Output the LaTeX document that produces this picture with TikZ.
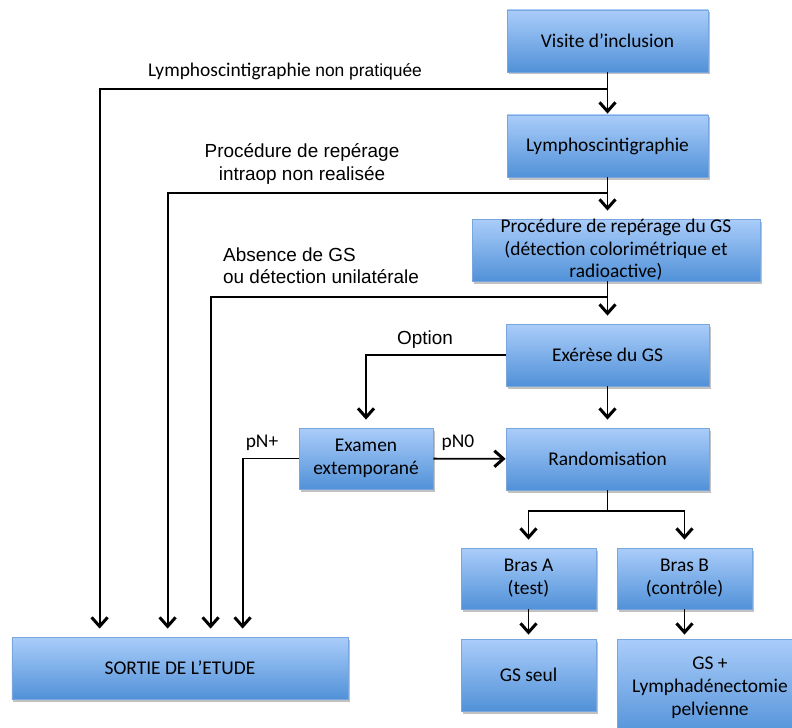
\documentclass[tikz,border=0pt]{standalone}
\usepackage{fontspec}
\setmainfont{Carlito}
\newfontfamily\arialf{Liberation Sans}
\usetikzlibrary{arrows.meta,shadows,calc}
\definecolor{boxtop}{HTML}{AACDFA}
\definecolor{boxbot}{HTML}{5191D8}
\definecolor{boxline}{HTML}{7AA6DE}
\begin{document}
\begin{tikzpicture}[x=1bp,y=-1bp,
  box/.style={draw=boxline, line width=0.8bp, top color=boxtop, bottom color=boxbot,
    drop shadow={shadow xshift=1.5bp, shadow yshift=-2.5bp, opacity=0.35, fill=black!70},
    inner sep=0pt, align=center, font=\fontsize{19.5}{23}\selectfont, text=black},
  boxtext/.style={inner sep=0pt, align=center, font=\fontsize{19.5}{22.5}\selectfont, text=black},
  lab/.style={inner sep=0pt, align=center, font=\arialf\fontsize{19}{22.5}\selectfont},
  clab/.style={inner sep=0pt, font=\fontsize{19.5}{23}\selectfont},
  conn/.style={line width=1.8bp, draw=black},
  arr/.style={conn, -{Straight Barb[length=9bp,width=16bp,line width=3bp]}, shorten >=8bp},
  arrn/.style={conn, -{Straight Barb[length=9bp,width=16bp,line width=3bp]}}]
\useasboundingbox (0,0) rectangle (792,728);

% boxes
\node[box, minimum width=201bp, minimum height=62bp] (visite) at (607.5,41) {Visite d’inclusion};
\node[box, minimum width=201bp, minimum height=62bp] (lympho) at (607.5,146) {Lymphoscintigraphie};
\node[box, minimum width=288bp, minimum height=62bp,
  label={[boxtext]center:{Procédure de repérage du GS\\(détection colorimétrique et\\radioactive)}}] (proc) at (616,250) {};
\node[box, minimum width=203bp, minimum height=62bp] (exer) at (607.5,355) {Exérèse du GS};
\node[box, minimum width=203bp, minimum height=62bp] (rand) at (607.5,459) {Randomisation};
\node[box, minimum width=134bp, minimum height=61bp] (exam) at (366,458.5) {Examen\\extemporané};
\node[box, minimum width=135bp, minimum height=61bp] (brasA) at (528.5,578.5) {Bras A\\(test)};
\node[box, minimum width=135bp, minimum height=61bp] (brasB) at (684.5,578.5) {Bras B\\(contrôle)};
\node[box, minimum width=135bp, minimum height=72bp] (gsseul) at (528.5,675) {GS seul};
\node[box, minimum width=186bp, minimum height=98bp] (gsplus) at (710,688) {GS +\\Lymphadénectomie\\pelvienne};
\node[box, minimum width=336bp, minimum height=62bp] (sortie) at (180,668) {SORTIE DE L’ETUDE};

% branch points
\coordinate (b1) at (visite.south |- 0,89);
\coordinate (b2) at (lympho.south |- 0,193);
\coordinate (b3) at (exer.north |- 0,297);
\coordinate (rb) at (rand.south |- 0,511);

% main flow
\draw[arrn, shorten >=1bp] (visite) -- (lympho);
\draw[arr] (lympho.south) -- (lympho.south |- proc.north);
\draw[arr] (proc.south -| exer.north) -- (exer.north);
\draw[arr] (exer) -- (rand);
\draw[arrn] (exam) -- (rand);
\draw[arr] (exer.west) -| (exam.north);

% exits
\draw[arr] (b1) -| ([xshift=88bp]sortie.north west);
\draw[arr] (b2) -| ([xshift=156bp]sortie.north west);
\draw[arr] (b3) -| ([xshift=199bp]sortie.north west);
\draw[arr] (exam.west) -| ([xshift=231bp]sortie.north west);

% randomisation
\draw[conn] (rand.south) -- (rb);
\draw[arr] (rb) -| (brasA.north);
\draw[arr] (rb) -| (brasB.north);
\draw[arr, shorten >=4bp] (brasA) -- (gsseul);
\draw[arr, shorten >=4bp] (brasB.south) -- (brasB.south |- gsplus.north);

% labels
\node[clab] (l1) at (285,72) {Lymphoscintigraphie {\arialf\fontsize{17.5}{20}\selectfont non pratiquée}};
\node[lab] (l2) at (302,164) {Procédure de repérage\\intraop non realisée};
\node[lab, align=left, anchor=west] (l3) at (223,266) {Absence de GS\\ou détection unilatérale};
\node[lab] (l4) at (425,340) {Option};
\node[clab] (l5) at (262,443) {pN+};
\node[clab] (l6) at (458,443) {pN0};
\end{tikzpicture}
\end{document}
